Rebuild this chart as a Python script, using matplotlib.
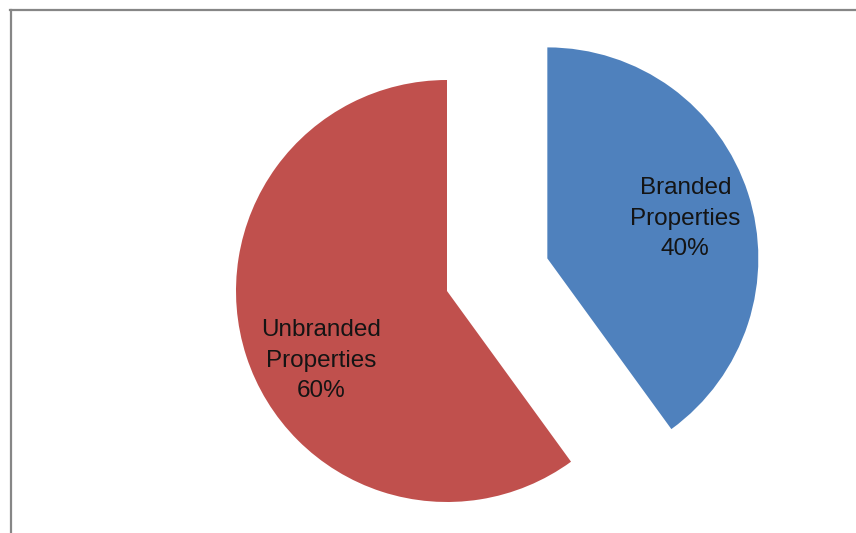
import matplotlib
matplotlib.use("Agg")
import matplotlib.pyplot as plt
from matplotlib.lines import Line2D
import numpy as np

categories = ["Branded\nProperties", "Unbranded\nProperties"]
values = [40, 60]
colors = ["#4F81BD", "#C0504D"]
explode_frac = [0.5, 0.0]
label_angles = [16, 209]  # degrees, counter-clockwise from east

W, H = 856, 533
R = 211
fig = plt.figure(figsize=(W / 100, H / 100), dpi=100)
ax = fig.add_axes([0, 0, 1, 1])

wedges, _ = ax.pie(values, colors=colors, explode=[e * R for e in explode_frac],
                   startangle=90, counterclock=False, center=(447, H - 291), radius=R,
                   wedgeprops=dict(linewidth=0), frame=True)
ax.set_xlim(0, W)
ax.set_ylim(0, H)
ax.set_aspect("equal")
ax.axis("off")

total = sum(values)
for w, cat, v, ang in zip(wedges, categories, values, label_angles):
    cx, cy = w.center
    r = w.r * 0.68
    x = cx + r * np.cos(np.radians(ang))
    y = cy + r * np.sin(np.radians(ang))
    ax.text(x, y, f"{cat}\n{v / total * 100:.0f}%", ha="center", va="center",
            fontsize=17.5, family="Liberation Sans", color="#141414",
            linespacing=1.5)

# chart border (top and left visible)
fig.add_artist(Line2D([11 / W, 11 / W], [0, 1 - 9.5 / H], transform=fig.transFigure,
                      color="#868686", linewidth=1.6))
fig.add_artist(Line2D([10 / W, 1], [1 - 9.5 / H, 1 - 9.5 / H], transform=fig.transFigure,
                      color="#868686", linewidth=1.6))

fig.savefig("out.png", dpi=100)
